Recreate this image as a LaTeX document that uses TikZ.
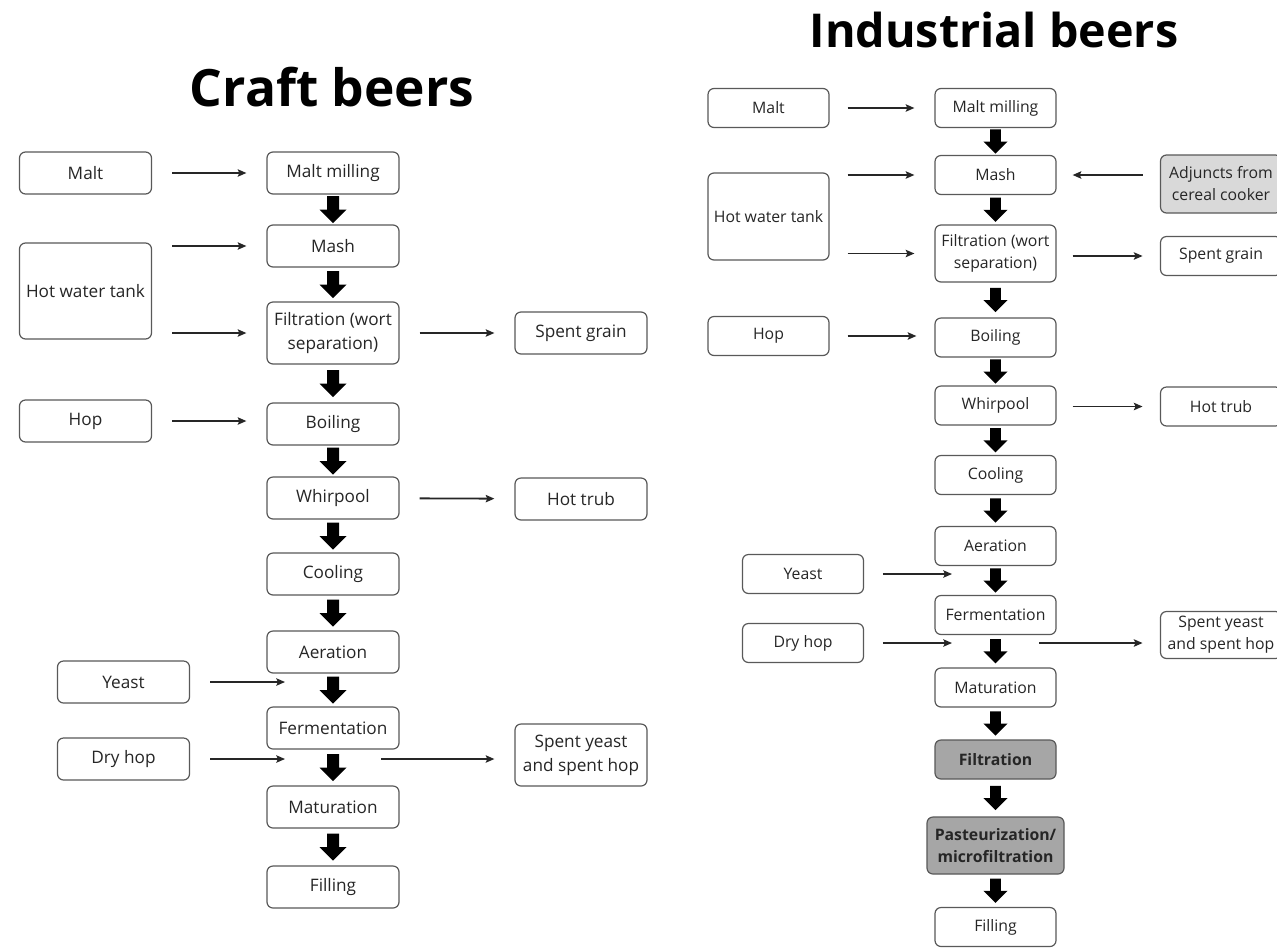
\documentclass[tikz,border=0pt]{standalone}
\usepackage{fontspec}
\setmainfont{Open Sans}
\usetikzlibrary{arrows.meta}
\usetikzlibrary{calc}
\usetikzlibrary{positioning}

\tikzset{
  stage/.style={draw=black!65, line width=0.9pt, rounded corners=4.5pt, fill=white, text=black!85, align=center, inner sep=0pt},
  craft/.style={stage, font=\fontsize{12.9}{18}\selectfont, minimum width=99pt, minimum height=31.5pt},
  indus/.style={stage, font=\fontsize{11.85}{16.5}\selectfont, minimum width=90.75pt, minimum height=29.25pt},
  feed/.style={-{Stealth[length=6.5pt,width=5.5pt,inset=1.2pt]}, line width=1.35pt, black!85},
  blockdown/.pic={\fill[black] (-6,-13.5) -- (6,-13.5) -- (6,0) -- (13.5,0) -- (0,13.5) -- (-13.5,0) -- (-6,0) -- cycle;}
}

\begin{document}
\begin{tikzpicture}[x=0.75pt,y=-0.75pt]
\fill[white,use as bounding box] (0,0) rectangle (1277,947);

\node[font=\fontsize{38.6}{44}\selectfont\bfseries, anchor=base] (crafttitle) at (332,106) {Craft beers};
\node[font=\fontsize{35}{40}\selectfont\bfseries, anchor=base] (indtitle) at (994,47) {Industrial beers};

% craft beers
\node[craft] (cmill) at (333,173) {Malt milling};
\node[craft] (cmash) at (333,246) {Mash};
\node[craft, minimum height=46.5pt] (cfilt) at (333,333) {Filtration (wort\\separation)};
\node[craft] (cboil) at (333,424) {Boiling};
\node[craft] (cwhirl) at (333,498) {Whirpool};
\node[craft] (ccool) at (333,574) {Cooling};
\node[craft] (caer) at (333,652) {Aeration};
\node[craft] (cferm) at (333,728) {Fermentation};
\node[craft] (cmat) at (333,807) {Maturation};
\node[craft] (cfill) at (333,887) {Filling};

\node[craft] (cmalt) at (85.5,173) {Malt};
\node[craft, minimum height=72pt] (chot) at (85.5,291) {Hot water tank};
\node[craft] (chop) at (85.5,421) {Hop};
\node[craft] (cyeast) at (123.5,682) {Yeast};
\node[craft] (cdry) at (123.5,759) {Dry hop};

\node[craft] (cgrain) at (581,333) {Spent grain};
\node[craft] (ctrub) at (581,499) {Hot trub};
\node[craft, minimum height=46.5pt] (cspent) at (581,755) {Spent yeast\\and spent hop};

\coordinate (cyeastin) at (285,682);
\coordinate (cdryin) at (285,759);
\coordinate (cspentout) at (381,759);

\draw[feed, shorten <=15pt, shorten >=15pt] (cmalt) -- (cmill);
\draw[feed, shorten <=15pt, shorten >=15pt] (chot.east |- cmash) -- (cmash);
\draw[feed, shorten <=15pt, shorten >=15pt] (chot.east |- cfilt) -- (cfilt);
\draw[feed, shorten <=15pt, shorten >=15pt] (chop) -- (cboil.west |- chop);
\draw[feed, shorten <=15pt, shorten >=15pt] (cfilt) -- (cgrain);
\draw[feed, shorten <=15pt, shorten >=15pt] (cwhirl) -- (ctrub);
\draw[feed, shorten <=15pt] (cyeast) -- (cyeastin);
\draw[feed, shorten <=15pt] (cdry) -- (cdryin);
\draw[feed, shorten >=15pt] (cspentout) -- (cspent.west |- cspentout);

\path ($(cmill.south)!0.5!(cmash.north)$) pic {blockdown};
\path ($(cmash.south)!0.5!(cfilt.north)$) pic {blockdown};
\path ($(cfilt.south)!0.5!(cboil.north)$) pic {blockdown};
\path ($(cboil.south)!0.5!(cwhirl.north)$) pic {blockdown};
\path ($(cwhirl.south)!0.5!(ccool.north)$) pic {blockdown};
\path ($(ccool.south)!0.5!(caer.north)$) pic {blockdown};
\path ($(caer.south)!0.5!(cferm.north)$) pic {blockdown};
\path ($(cferm.south)!0.5!(cmat.north)$) pic {blockdown};
\path ($(cmat.south)!0.5!(cfill.north)$) pic {blockdown};

% industrial beers
\node[indus] (imill) at (995.5,108) {Malt milling};
\node[indus] (imash) at (995.5,175) {Mash};
\node[indus, minimum height=42.75pt] (ifilt) at (995.5,253.5) {Filtration (wort\\separation)};
\node[indus] (iboil) at (995.5,337.5) {Boiling};
\node[indus] (iwhirl) at (995.5,405.5) {Whirpool};
\node[indus] (icool) at (995.5,475) {Cooling};
\node[indus] (iaer) at (995.5,546) {Aeration};
\node[indus] (iferm) at (995.5,615) {Fermentation};
\node[indus] (imat) at (995.5,687.5) {Maturation};
\node[indus, fill=black!35, font=\fontsize{11.85}{16.5}\selectfont\bfseries] (ifine) at (995.5,759.5) {Filtration};
\node[indus, fill=black!35, font=\fontsize{11.85}{16.5}\selectfont\bfseries, minimum width=102.75pt, minimum height=42.75pt] (ipast) at (995.5,845.5) {Pasteurization/\\microfiltration};
\node[indus] (ifill) at (995.5,927) {Filling};

\node[indus] (imalt) at (768.5,108) {Malt};
\node[indus, minimum height=65.25pt] (ihot) at (768.5,216.5) {Hot water tank};
\node[indus] (ihop) at (768.5,336) {Hop};
\node[indus] (iyeast) at (803,574) {Yeast};
\node[indus] (idry) at (803,643) {Dry hop};

\node[indus, fill=black!15, minimum height=43.5pt] (iadj) at (1221,184) {Adjuncts from\\cereal cooker};
\node[indus] (igrain) at (1221,256) {Spent grain};
\node[indus] (itrub) at (1221,406.5) {Hot trub};
\node[indus, minimum height=35.25pt] (ispent) at (1221,635) {Spent yeast\\and spent hop};

\coordinate (iyeastin) at (952,574);
\coordinate (idryin) at (952,643);
\coordinate (ispentout) at (1039,643);

\draw[feed, shorten <=13.5pt, shorten >=15pt] (imalt) -- (imill);
\draw[feed, shorten <=13.5pt, shorten >=15pt] (ihot.east |- imash) -- (imash);
\draw[feed, shorten <=13.5pt, shorten >=15pt] (ihot.east |- ifilt) -- (ifilt);
\draw[feed, shorten <=13.5pt, shorten >=13.5pt] (ihop) -- (iboil.west |- ihop);
\draw[feed, shorten <=13pt, shorten >=12pt] (iadj.west |- imash) -- (imash);
\draw[feed, shorten <=12pt, shorten >=13pt] (ifilt.east |- igrain) -- (igrain);
\draw[feed, shorten <=12pt, shorten >=13pt] (iwhirl.east |- itrub) -- (itrub);
\draw[feed, shorten <=14pt] (iyeast) -- (iyeastin);
\draw[feed, shorten <=14pt] (idry) -- (idryin);
\draw[feed, shorten >=13pt] (ispentout) -- (ispent.west |- ispentout);

\path ($(imill.south)!0.5!(imash.north)$) pic[scale=0.9] {blockdown};
\path ($(imash.south)!0.5!(ifilt.north)$) pic[scale=0.9] {blockdown};
\path ($(ifilt.south)!0.5!(iboil.north)$) pic[scale=0.9] {blockdown};
\path ($(iboil.south)!0.5!(iwhirl.north)$) pic[scale=0.9] {blockdown};
\path ($(iwhirl.south)!0.5!(icool.north)$) pic[scale=0.9] {blockdown};
\path ($(icool.south)!0.5!(iaer.north)$) pic[scale=0.9] {blockdown};
\path ($(iaer.south)!0.5!(iferm.north)$) pic[scale=0.9] {blockdown};
\path ($(iferm.south)!0.5!(imat.north)$) pic[scale=0.9] {blockdown};
\path ($(imat.south)!0.5!(ifine.north)$) pic[scale=0.9] {blockdown};
\path ($(ifine.south)!0.5!(ipast.north)$) pic[scale=0.9] {blockdown};
\path ($(ipast.south)!0.5!(ifill.north)$) pic[scale=0.9] {blockdown};

\end{tikzpicture}
\end{document}
